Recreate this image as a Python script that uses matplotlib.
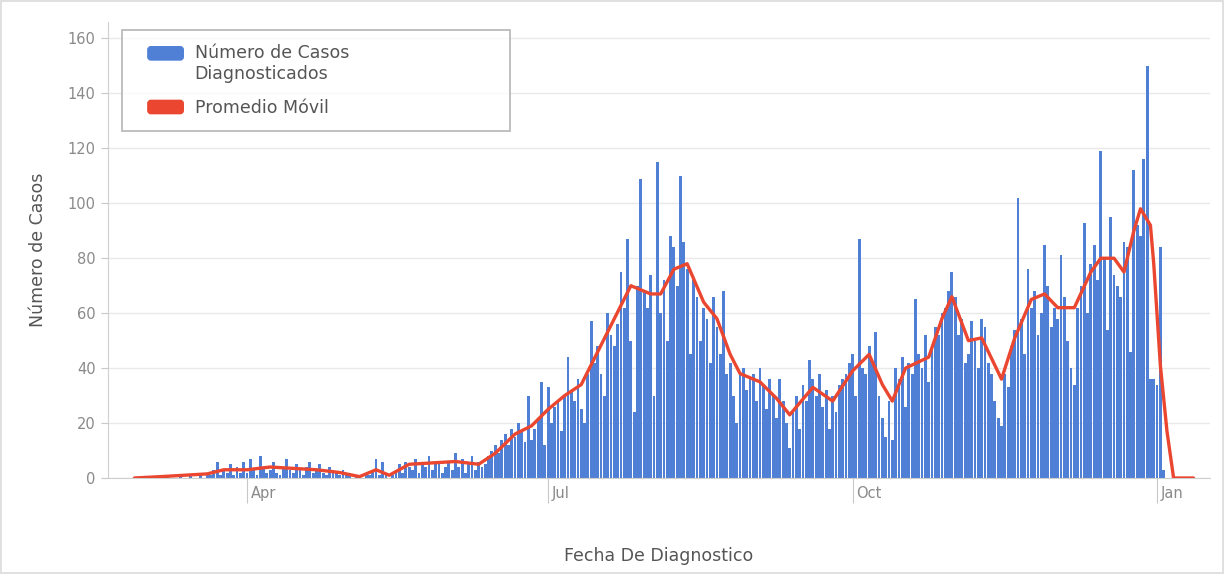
import pandas as pd
import matplotlib.pyplot as plt
import matplotlib.transforms as mtransforms
from matplotlib.patches import Patch, FancyBboxPatch
from matplotlib.legend_handler import HandlerPatch

plt.rcParams['font.family'] = ['DejaVu Sans']

# casos diarios (desde 2020-03-01)
inicio = '2020-03-01'
marzo = [0, 0, 0, 0, 0, 0, 0, 1, 0, 0, 0, 1, 0, 0, 1, 0, 0, 1, 0,
         2, 1, 3, 6, 1, 3, 2, 5, 1, 4, 2, 6]
abril = [2, 7, 3, 1, 8, 4, 2, 3, 6, 2, 1, 4, 7, 3, 2, 5, 3, 1, 4, 6,
         2, 3, 5, 2, 1, 4, 3, 2, 1, 3]
mayo = [1, 2, 0, 1, 1, 0, 2, 1, 3, 7, 1, 6, 2, 0, 1, 3, 5, 2, 6, 4,
        3, 7, 2, 5, 4, 8, 3, 5, 6, 2, 4]
junio = [6, 3, 9, 4, 7, 2, 5, 8, 3, 6, 4, 5, 8, 10, 12, 9, 14, 16, 12, 18,
         15, 20, 17, 13, 30, 14, 18, 22, 35, 12]
julio = [33, 20, 26, 28, 17, 30, 44, 32, 28, 36, 25, 20, 38, 57, 42, 48,
         38, 30, 60, 52, 48, 56, 75, 62, 87, 50, 24, 70, 109, 68, 62]
agosto = [74, 30, 115, 60, 72, 50, 88, 84, 70, 110, 86, 76, 45, 72, 66, 50,
          62, 58, 42, 66, 55, 45, 68, 38, 42, 30, 20, 38, 40, 32, 36]
septiembre = [38, 28, 40, 34, 25, 36, 30, 22, 36, 28, 20, 11, 24, 30, 18,
              34, 28, 43, 36, 30, 38, 26, 32, 18, 30, 24, 34, 36, 38, 42]
octubre = [45, 30, 87, 40, 38, 48, 42, 53, 30, 22, 15, 28, 14, 40, 36, 44,
           26, 42, 38, 65, 45, 40, 52, 35, 48, 55, 52, 60, 62, 68, 75]
noviembre = [66, 52, 58, 42, 45, 57, 50, 40, 58, 55, 42, 38, 28, 22, 19,
             38, 33, 48, 54, 102, 58, 45, 76, 62, 68, 52, 60, 85, 70, 55]
diciembre = [62, 58, 81, 66, 50, 40, 34, 62, 70, 93, 60, 78, 85, 72, 119,
             80, 54, 95, 74, 70, 66, 86, 84, 46, 112, 92, 88, 116, 150, 36, 36]
enero = [34, 84, 3]

casos = marzo + abril + mayo + junio + julio + agosto + septiembre + octubre + noviembre + diciembre + enero
fechas = pd.date_range(inicio, periods=len(casos), freq='D')

# promedio movil
ma_fechas = ['2020-02-27', '2020-03-06', '2020-03-13', '2020-03-20', '2020-03-25',
             '2020-04-01', '2020-04-08', '2020-04-15', '2020-04-22', '2020-04-29',
             '2020-05-05', '2020-05-10', '2020-05-14', '2020-05-20', '2020-05-27',
             '2020-06-03', '2020-06-10', '2020-06-15', '2020-06-21', '2020-06-26',
             '2020-07-01', '2020-07-06', '2020-07-11', '2020-07-16', '2020-07-21',
             '2020-07-26', '2020-08-01', '2020-08-04', '2020-08-08', '2020-08-12',
             '2020-08-17', '2020-08-21', '2020-08-25', '2020-08-28', '2020-09-03',
             '2020-09-08', '2020-09-12', '2020-09-19', '2020-09-25', '2020-10-01',
             '2020-10-06', '2020-10-10', '2020-10-13', '2020-10-17', '2020-10-24',
             '2020-10-28', '2020-10-31', '2020-11-05', '2020-11-09', '2020-11-15',
             '2020-11-19', '2020-11-24', '2020-11-28', '2020-12-02', '2020-12-07',
             '2020-12-12', '2020-12-15', '2020-12-19', '2020-12-22', '2020-12-25',
             '2020-12-27', '2020-12-30', '2020-12-31', '2021-01-02', '2021-01-04',
             '2021-01-06', '2021-01-12']
ma_valores = [0, 0.5, 1, 1.5, 3,
              3, 4, 3.5, 3, 2,
              0.5, 3, 1, 5, 5.5,
              6, 5, 9, 16, 19,
              25, 30, 34, 46, 58,
              70, 67, 67, 76, 78,
              64, 58, 45, 38, 35,
              29, 23, 33, 28, 39,
              45, 34, 28, 40, 44,
              58, 66, 50, 51, 36,
              51, 65, 67, 62, 62,
              75, 80, 80, 75, 90,
              98, 92, 78, 41, 17,
              0, 0]

meses_ticks = ['2020-04-01', '2020-07-01', '2020-10-01', '2021-01-01']
meses_labels = ['Apr', 'Jul', 'Oct', 'Jan']

azul = '#4f80d6'
rojo = '#ea4630'

fig = plt.figure(figsize=(12.24, 5.74), dpi=100)
fig.patch.set_edgecolor('#e0e0e0')
fig.patch.set_linewidth(1.5)
ax = fig.add_axes([108 / 1224, 96 / 574, 1102 / 1224, 456 / 574])

ax.bar(fechas, casos, width=0.85, color=azul, zorder=2)
ax.plot(pd.to_datetime(ma_fechas), ma_valores, color=rojo, lw=2.4,
        zorder=3, solid_joinstyle='round', solid_capstyle='round')

ax.set_xlim(pd.Timestamp('2020-02-19'), pd.Timestamp('2021-01-17'))
ax.set_ylim(0, 166)
ax.set_yticks(range(0, 161, 20))
ax.yaxis.grid(True, color='#e9e9e9', lw=1)
ax.set_axisbelow(True)

for s in ['top', 'right']:
    ax.spines[s].set_visible(False)
ax.spines['left'].set_color('#cfcfcf')
ax.spines['bottom'].set_color('#cfcfcf')

ax.tick_params(axis='y', length=5, color='#c8c8c8', labelcolor='#8a8a8a', labelsize=10.5, pad=4)
ax.set_xticks(pd.to_datetime(meses_ticks))
ax.set_xticklabels(meses_labels)
ax.tick_params(axis='x', length=18, color='#c8c8c8', labelcolor='#8a8a8a', labelsize=10.5, pad=-12)
desplazar = mtransforms.ScaledTranslation(4 / 100, 0, fig.dpi_scale_trans)
for lbl in ax.get_xticklabels():
    lbl.set_horizontalalignment('left')
    lbl.set_transform(lbl.get_transform() + desplazar)

ax.set_ylabel('Número de Casos', fontsize=12.5, color='#555555', labelpad=15)
ax.set_xlabel('Fecha De Diagnostico', fontsize=12.5, color='#555555', labelpad=32)


def caja_redonda(legend, orig_handle, xdescent, ydescent, width, height, fontsize):
    # caja redondeada a la derecha del espacio del handle; la azul sube a la primera linea
    ancho = 25.5
    subir = 0.62 * fontsize if orig_handle.get_gid() == 'casos' else 0
    return FancyBboxPatch((-xdescent + width - ancho, -ydescent + subir), ancho, height,
                          boxstyle='round,pad=0,rounding_size=2.2')


h_casos = Patch(color=azul, gid='casos')
h_prom = Patch(color=rojo)
leg = ax.legend([h_casos, h_prom], ['Número de Casos\nDiagnosticados', 'Promedio Móvil'],
                loc='upper left', bbox_to_anchor=(0.0127, 0.761, 0.352, 0.221),
                mode='expand', borderaxespad=0, fontsize=12.5, frameon=True,
                fancybox=False, edgecolor='#aaaaaa', handlelength=2.75,
                handleheight=0.8, handletextpad=0.65, labelspacing=0.95,
                borderpad=0.78,
                handler_map={Patch: HandlerPatch(patch_func=caja_redonda)})
leg.get_frame().set_linewidth(1.3)
for t in leg.get_texts():
    t.set_color('#555555')

fig.savefig('out.png', dpi=100)
